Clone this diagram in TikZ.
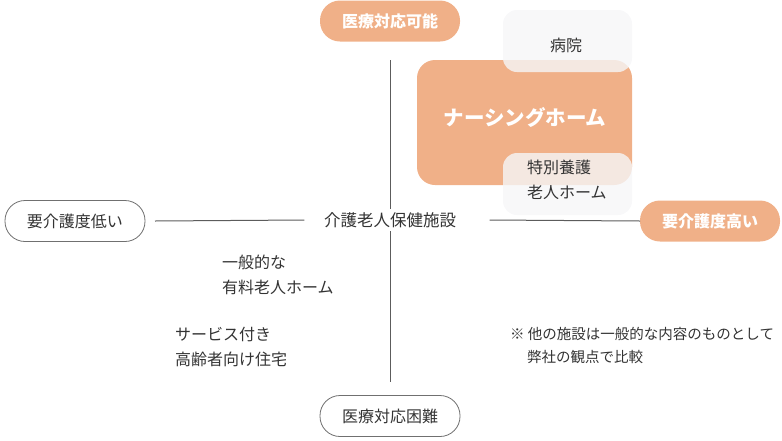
\documentclass[tikz,border=0pt]{standalone}
\usepackage{fontspec}
\setmainfont{Noto Sans CJK JP}
\usetikzlibrary{positioning}
\definecolor{careorange}{HTML}{F0B088}
\definecolor{caregray}{HTML}{F6F6F8}
\definecolor{caretext}{HTML}{333333}
\tikzset{
  pill/.style={rounded corners=20pt,minimum width=140pt,minimum height=41pt,inner sep=0pt},
  pillon/.style={pill,fill=careorange,text=white,font=\fontsize{16}{18}\selectfont\bfseries},
  pilloff/.style={pill,draw=caretext!70,line width=0.8pt,fill=white,text=caretext,font=\fontsize{16}{18}\selectfont},
  lbl/.style={text=caretext,font=\fontsize{16}{25}\selectfont,align=left,inner sep=0pt,anchor=north west},
  axis/.style={draw=caretext!80,line width=1pt}
}
\begin{document}
\begin{tikzpicture}[x=1pt,y=-1pt]
	\useasboundingbox (0,0) rectangle (782,440);
	% facilities
	\fill[careorange,rounded corners=18pt] (417,60) rectangle (632,185);
	\fill[caregray,opacity=0.8,rounded corners=14pt] (503,10) rectangle (632,72);
	\fill[caregray,opacity=0.8,rounded corners=14pt] (503,153) rectangle (632,215);
	\node[text=caretext,font=\fontsize{16}{18}\selectfont] (hosp) at (566,45) {病院};
	\node[text=white,font=\fontsize{20.5}{22}\selectfont\bfseries] (nursing) at (525,118) {ナーシングホーム};
	\node[lbl] (tokuyo) at (527,160) {特別養護\\老人ホーム};
	% axes
	\node[pillon] (medok) at (390,21) {医療対応可能};
	\node[pilloff] (medng) at (390,416) {医療対応困難};
	\node[pilloff] (carelow) at (75,221) {要介護度低い};
	\node[pillon] (carehigh) at (710,221) {要介護度高い};
	\node[text=caretext,font=\fontsize{16.5}{18}\selectfont] (roken) at (390,220) {介護老人保健施設};
	\coordinate (vtop) at (390,60);
	\coordinate (vbot) at (390,382);
	\coordinate (hleft) at (155,221);
	\coordinate (hright) at (640,221);
	\draw[axis] (vtop) -- (roken.north);
	\draw[axis] (roken.south) -- (vbot);
	\draw[axis] (hleft) -- ([xshift=-16pt]roken.west);
	\draw[axis] ([xshift=30pt]roken.east) -- (hright);
	% others
	\node[lbl] (yuryo) at (222,255) {一般的な\\有料老人ホーム};
	\node[lbl] (sakoju) at (175,327) {サービス付き\\高齢者向け住宅};
	\node[lbl,font=\fontsize{14.5}{23}\selectfont] (note) at (510,327) {※ 他の施設は一般的な内容のものとして\\\hspace*{17pt}弊社の観点で比較};
\end{tikzpicture}
\end{document}
